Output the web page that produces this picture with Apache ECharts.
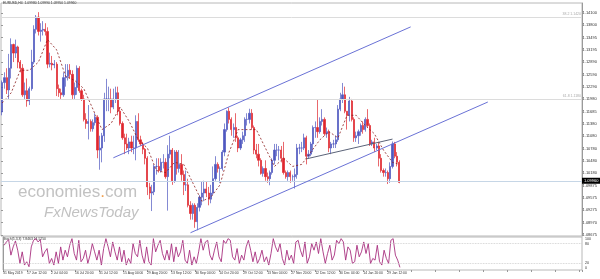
<!DOCTYPE html>
<html><head><meta charset="utf-8">
<script src="https://cdn.jsdelivr.net/npm/echarts@6/dist/echarts.min.js"></script>
<style>html,body{margin:0;padding:0;background:#fff}#c{width:600px;height:279px}</style>
</head><body><div id="c"></div>
<script>
// ---- data ----
const priceTickLabels = ['1.08675','1.08970','1.09275','1.09575','1.09875','1.10180','1.10480','1.10780','1.11080','1.11380','1.11685','1.11980','1.12290','1.12590','1.12890','1.13195','1.13495','1.13800','1.14100'];
const timeLabels = ['31 May 2019','17 Jun 12:00','2 Jul 04:00','16 Jul 20:00','31 Jul 12:00','15 Aug 04:00','29 Aug 20:00','13 Sep 12:00','30 Sep 04:00','14 Oct 20:00','29 Oct 12:00','13 Nov 04:00','27 Nov 20:00','12 Dec 12:00','30 Dec 04:00','14 Jan 20:00','29 Jan 12:00'];
const stochTickLabels = {0:'0',20:'20',80:'80',100:'100'};
// open, close, low, high
const ohlc = [
[1.1168,1.1240,1.1160,1.1245],[1.1240,1.1252,1.1225,1.1265],[1.1252,1.1222,1.1212,1.1275],[1.1222,1.1275,1.1200,1.1310],[1.1275,1.1333,1.1250,1.1348],
[1.1333,1.1312,1.1290,1.1335],[1.1312,1.1327,1.1300,1.1345],[1.1327,1.1290,1.1275,1.1330],[1.1290,1.1275,1.1265,1.1295],[1.1275,1.1210,1.1205,1.1285],
[1.1210,1.1220,1.1200,1.1240],[1.1220,1.1195,1.1181,1.1250],[1.1195,1.1225,1.1185,1.1230],[1.1225,1.1290,1.1220,1.1320],[1.1290,1.1370,1.1285,1.1380],
[1.1370,1.1400,1.1360,1.1405],[1.1400,1.1365,1.1355,1.1412],[1.1365,1.1368,1.1340,1.1385],[1.1368,1.1370,1.1355,1.1390],[1.1370,1.1365,1.1355,1.1385],
[1.1365,1.1285,1.1275,1.1375],[1.1285,1.1287,1.1277,1.1313],[1.1287,1.1283,1.1270,1.1305],[1.1283,1.1285,1.1275,1.1295],[1.1285,1.1225,1.1207,1.1290],
[1.1225,1.1215,1.1205,1.1235],[1.1215,1.1210,1.1200,1.1225],[1.1210,1.1252,1.1205,1.1265],[1.1252,1.1255,1.1230,1.1285],[1.1255,1.1270,1.1245,1.1285],
[1.1270,1.1260,1.1250,1.1285],[1.1260,1.1210,1.1200,1.1270],[1.1210,1.1228,1.1200,1.1240],[1.1228,1.1275,1.1210,1.1282],[1.1275,1.1220,1.1215,1.1280],
[1.1220,1.1200,1.1195,1.1225],[1.1200,1.1150,1.1145,1.1210],[1.1150,1.1140,1.1127,1.1165],[1.1140,1.1145,1.1101,1.1185],[1.1145,1.1127,1.1120,1.1150],
[1.1127,1.1142,1.1120,1.1150],[1.1142,1.1155,1.1135,1.1165],[1.1155,1.1075,1.1055,1.1160],[1.1075,1.1080,1.1027,1.1110],[1.1080,1.1110,1.1045,1.1117],
[1.1110,1.1200,1.1095,1.1215],[1.1200,1.1200,1.1170,1.1249],[1.1200,1.1200,1.1170,1.1230],[1.1200,1.1180,1.1165,1.1225],[1.1180,1.1200,1.1175,1.1225],
[1.1200,1.1215,1.1190,1.1230],[1.1215,1.1170,1.1160,1.1230],[1.1170,1.1140,1.1135,1.1180],[1.1140,1.1105,1.1100,1.1145],[1.1105,1.1090,1.1065,1.1115],
[1.1090,1.1080,1.1075,1.1115],[1.1080,1.1095,1.1065,1.1105],[1.1095,1.1080,1.1070,1.1110],[1.1080,1.1080,1.1065,1.1110],[1.1080,1.1145,1.1050,1.1160],
[1.1145,1.1100,1.1095,1.1165],[1.1100,1.1090,1.1085,1.1110],[1.1090,1.1077,1.1065,1.1095],[1.1077,1.1055,1.1040,1.1080],[1.1055,1.0985,1.0965,1.1060],
[1.0985,1.0970,1.0955,1.0995],[1.0970,1.0973,1.0926,1.0990],[1.0973,1.1035,1.0965,1.1040],[1.1035,1.1035,1.1015,1.1055],[1.1035,1.1025,1.1020,1.1055],
[1.1025,1.1045,1.1020,1.1055],[1.1045,1.1045,1.1030,1.1065],[1.1045,1.1010,1.1005,1.1055],[1.1010,1.1065,1.0927,1.1087],[1.1065,1.1075,1.1055,1.1110],
[1.1075,1.1000,1.0990,1.1080],[1.1000,1.1070,1.0995,1.1075],[1.1070,1.1030,1.1015,1.1075],[1.1030,1.1040,1.1020,1.1075],[1.1040,1.1015,1.1000,1.1065],
[1.1015,1.0990,1.0965,1.1025],[1.0990,1.0990,1.0975,1.1025],[1.0990,1.0940,1.0935,1.1005],[1.0940,1.0920,1.0905,1.0950],[1.0920,1.0940,1.0905,1.0945],
[1.0940,1.0900,1.0885,1.0945],[1.0900,1.0935,1.0879,1.0945],[1.0935,1.0960,1.0925,1.0965],[1.0960,1.0970,1.0940,1.0998],[1.0970,1.0980,1.0950,1.1000],
[1.0980,1.0970,1.0960,1.0999],[1.0970,1.0955,1.0940,1.0985],[1.0955,1.0970,1.0945,1.0990],[1.0970,1.1005,1.0965,1.1035],[1.1005,1.1040,1.1000,1.1060],
[1.1040,1.1030,1.1020,1.1045],[1.1030,1.1030,1.0995,1.1035],[1.1030,1.1070,1.1025,1.1075],[1.1070,1.1125,1.1060,1.1140],[1.1125,1.1170,1.1120,1.1172],
[1.1170,1.1150,1.1140,1.1179],[1.1150,1.1125,1.1110,1.1155],[1.1125,1.1130,1.1105,1.1140],[1.1130,1.1105,1.1095,1.1165],[1.1105,1.1080,1.1070,1.1110],
[1.1080,1.1100,1.1075,1.1105],[1.1100,1.1110,1.1090,1.1120],[1.1110,1.1150,1.1095,1.1155],[1.1150,1.1150,1.1135,1.1165],[1.1150,1.1165,1.1140,1.1176],
[1.1165,1.1130,1.1125,1.1175],[1.1130,1.1075,1.1065,1.1135],[1.1075,1.1065,1.1055,1.1090],[1.1065,1.1050,1.1035,1.1090],[1.1050,1.1018,1.1015,1.1055],
[1.1018,1.1030,1.1010,1.1035],[1.1030,1.1010,1.1000,1.1050],[1.1010,1.1005,1.0995,1.1020],[1.1005,1.1020,1.0989,1.1025],[1.1020,1.1050,1.1015,1.1055],
[1.1050,1.1075,1.1040,1.1090],[1.1075,1.1075,1.1060,1.1090],[1.1075,1.1075,1.1050,1.1085],[1.1075,1.1055,1.1045,1.1085],[1.1055,1.1020,1.1015,1.1095],
[1.1020,1.1010,1.1005,1.1025],[1.1010,1.1020,1.1000,1.1025],[1.1020,1.1010,1.0995,1.1025],[1.1010,1.1010,1.1000,1.1015],[1.1010,1.1015,1.0981,1.1030],
[1.1015,1.1080,1.1005,1.1090],[1.1080,1.1080,1.1065,1.1090],[1.1080,1.1080,1.1070,1.1095],[1.1080,1.1105,1.1075,1.1115],[1.1105,1.1060,1.1040,1.1110],
[1.1060,1.1065,1.1055,1.1075],[1.1065,1.1090,1.1060,1.1095],[1.1090,1.1130,1.1070,1.1135],[1.1130,1.1130,1.1105,1.1145],[1.1130,1.1120,1.1105,1.1199],
[1.1120,1.1145,1.1115,1.1155],[1.1145,1.1150,1.1135,1.1175],[1.1150,1.1115,1.1110,1.1155],[1.1115,1.1120,1.1105,1.1130],[1.1120,1.1080,1.1070,1.1125],
[1.1080,1.1090,1.1065,1.1095],[1.1090,1.1090,1.1080,1.1100],[1.1090,1.1100,1.1080,1.1110],[1.1100,1.1175,1.1095,1.1185],[1.1175,1.1200,1.1170,1.1215],
[1.1200,1.1210,1.1190,1.1239],[1.1210,1.1170,1.1165,1.1230],[1.1170,1.1160,1.1125,1.1170],[1.1160,1.1195,1.1145,1.1205],[1.1195,1.1150,1.1145,1.1200],
[1.1150,1.1105,1.1095,1.1155],[1.1105,1.1110,1.1095,1.1120],[1.1110,1.1120,1.1090,1.1125],[1.1120,1.1135,1.1110,1.1140],[1.1135,1.1125,1.1115,1.1145],
[1.1125,1.1150,1.1120,1.1155],[1.1150,1.1135,1.1130,1.1175],[1.1135,1.1090,1.1085,1.1140],[1.1090,1.1095,1.1085,1.1100],[1.1095,1.1080,1.1070,1.1105],
[1.1080,1.1085,1.1075,1.1090],[1.1085,1.1055,1.1035,1.1095],[1.1055,1.1025,1.1020,1.1065],[1.1025,1.1020,1.1010,1.1030],[1.1020,1.1020,1.1010,1.1030],
[1.1020,1.1005,1.0992,1.1025],[1.1005,1.1035,1.0995,1.1045],[1.1035,1.1090,1.1030,1.1096],[1.1090,1.1060,1.1055,1.1095],[1.1060,1.1045,1.1035,1.1070],
[1.1045,1.0996,1.0994,1.1050]
];
// moving average (dashed), [candle index, value]
const maPoints = [[0,1.1190],[4,1.1215],[8,1.1270],[12,1.1270],[16,1.1290],[20,1.1345],[24,1.1320],[28,1.1255],[32,1.1245],[36,1.1225],[40,1.1175],[44,1.1125],[48,1.1140],[52,1.1180],[56,1.1145],[60,1.1100],[64,1.1080],[68,1.1025],[72,1.1020],[76,1.1045],[80,1.1040],[84,1.0995],[88,1.0950],[92,1.0960],[96,1.0990],[100,1.1070],[104,1.1125],[108,1.1125],[112,1.1125],[116,1.1080],[120,1.1035],[124,1.1055],[128,1.1035],[132,1.1040],[136,1.1070],[140,1.1100],[144,1.1120],[148,1.1105],[152,1.1160],[156,1.1160],[160,1.1135],[164,1.1115],[168,1.1075],[172,1.1045],[175,1.1040]];
const stochK = [75,85,92,45,70,88,60,20,55,15,25,10,70,90,95,85,92,40,55,65,20,35,15,55,20,70,30,60,40,75,95,50,30,90,25,35,60,20,45,80,55,30,60,15,65,95,70,40,85,55,30,70,25,60,15,35,20,80,50,40,90,45,20,70,25,15,95,55,75,90,50,30,60,30,80,25,70,40,55,90,30,20,60,15,40,20,55,95,60,85,90,45,30,60,85,40,25,90,80,95,90,40,30,65,20,45,30,70,90,60,25,55,20,35,60,25,40,15,50,95,70,55,80,35,15,60,30,45,20,85,90,60,40,85,20,40,80,60,85,50,95,55,20,50,75,30,45,90,80,95,85,30,70,60,20,25,75,40,55,85,50,80,20,35,30,75,25,15,60,35,20,90,95,45,30,8];
const channelUpper = [[49,1.10561],[180,1.13760]];
const channelLower = [[83,1.08730],[214,1.11924]];
const trendLine = [[134,1.10534],[172,1.11018]];
const fibLevels = [[1.14198,'38.2 1.1420'],[1.11803,'61.8 1.1180']];
const lastPrice = 1.09960;
const stochLevels = [80,20];

// ---- chart ----
const N = 256;
const cats = Array.from({length:N},(_,i)=>String(i));
const maData = new Array(N).fill(null);
maPoints.forEach(p=>{maData[p[0]]=p[1];});
const font = 'Liberation Sans, Arial, sans-serif';
const chart = echarts.init(document.getElementById('c'), null, {renderer:'canvas'});
chart.setOption({
  animation:false,
  backgroundColor:'#ffffff',
  grid:[
    {left:1, width:581, top:3, height:233, show:true, borderColor:'#b8b8b8', borderWidth:1},
    {left:1, width:581, top:237, height:33, show:true, borderColor:'#b8b8b8', borderWidth:1},
    {left:1, width:581, top:13, height:222, show:false}
  ],
  xAxis:[
    {type:'category', gridIndex:0, data:cats, boundaryGap:true, show:false},
    {type:'category', gridIndex:1, data:cats, boundaryGap:true, show:false},
    {type:'value', gridIndex:1, min:0, max:581/24.1, interval:1, position:'bottom',
     axisLine:{show:false}, splitLine:{show:false},
     axisTick:{show:true, length:2, lineStyle:{color:'#999'}},
     axisLabel:{show:true, fontSize:3.4, fontFamily:font, color:'#333', margin:2, align:'left',
       formatter:v=>{const k=Math.round(v);return Math.abs(v-k)<1e-6&&timeLabels[k]?timeLabels[k]:'';}}},
    {type:'value', gridIndex:2, min:0, max:1, show:false}
  ],
  yAxis:[
    {type:'value', gridIndex:0, min:1.08650, max:1.14344, position:'right', scale:true,
     axisLine:{show:true, lineStyle:{color:'#9a9a9a'}}, axisTick:{show:false}, axisLabel:{show:false}, splitLine:{show:false}},
    {type:'value', gridIndex:1, min:0, max:100, interval:20, position:'right',
     axisLine:{show:true, lineStyle:{color:'#9a9a9a'}}, axisTick:{show:false}, splitLine:{show:false},
     axisLabel:{show:true, fontSize:3.6, fontFamily:font, color:'#333', margin:3,
       formatter:v=>v===100?'{a|100}':(v===0?'{b|0}':(stochTickLabels[v]||'')),
       rich:{a:{fontSize:3.6, padding:[4,0,0,0]}, b:{fontSize:3.6, padding:[0,0,4,0]}}}},
    {type:'value', gridIndex:2, min:0, max:18, interval:1, position:'right',
     axisLine:{show:false}, splitLine:{show:false},
     axisTick:{show:true, length:2, lineStyle:{color:'#999'}},
     axisLabel:{show:true, fontSize:4, fontFamily:font, color:'#333', margin:3,
       formatter:v=>priceTickLabels[v]||''}}
  ],
  series:[
    {type:'candlestick', xAxisIndex:0, yAxisIndex:0, data:ohlc, barWidth:1.7, clip:true,
     itemStyle:{color:'#4f58c0', color0:'#e0262e', borderColor:'#4f58c0', borderColor0:'#e0262e', borderWidth:0.7},
     markLine:{silent:true, symbol:['none','none'], animation:false,
       data:[
         {yAxis:fibLevels[0][0], lineStyle:{color:'#dcdcdc', type:'solid', width:1},
          label:{show:true, position:'insideEndTop', formatter:fibLevels[0][1], color:'#aaa', fontSize:3.5, fontFamily:font, distance:1}},
         {yAxis:fibLevels[1][0], lineStyle:{color:'#dcdcdc', type:'solid', width:1},
          label:{show:true, position:'insideEndTop', formatter:fibLevels[1][1], color:'#aaa', fontSize:3.5, fontFamily:font, distance:1}},
         {yAxis:lastPrice, lineStyle:{color:'#c6d6e6', type:'solid', width:1},
          label:{show:true, position:'end', formatter:lastPrice.toFixed(5), color:'#fff', backgroundColor:'#000', fontSize:4, fontFamily:font, padding:[1,2,1,2], distance:0}},
         [{coord:channelUpper[0], lineStyle:{color:'#6a72d6', type:'solid', width:1}, label:{show:false}},{coord:channelUpper[1]}],
         [{coord:channelLower[0], lineStyle:{color:'#6a72d6', type:'solid', width:1}, label:{show:false}},{coord:channelLower[1]}],
         [{coord:trendLine[0], lineStyle:{color:'#5b6378', type:'solid', width:1}, label:{show:false}},{coord:trendLine[1]}]
       ]}},
    {type:'line', xAxisIndex:0, yAxisIndex:0, data:maData, connectNulls:true, symbol:'none',
     lineStyle:{color:'#8a1c1c', width:0.8, type:[2,2]}},
    {type:'line', xAxisIndex:1, yAxisIndex:1, data:stochK, symbol:'none',
     lineStyle:{color:'#a8307f', width:0.9},
     markLine:{silent:true, symbol:['none','none'], label:{show:false},
       data:stochLevels.map(v=>({yAxis:v})), lineStyle:{color:'#c8c8c8', type:'dotted', width:0.8}}}
  ],
  graphic:[
    {type:'text', left:3, top:2, style:{text:'EURUSD,H4  1.09980 1.09990 1.09950 1.09960', fontSize:3.4, fontFamily:font, fill:'#333'}},
    {type:'text', left:3, top:238, style:{text:'Stoch(5,3,3) 7.8463 14.5250', fontSize:3.4, fontFamily:font, fill:'#333'}},
    {type:'text', left:18, top:184, z:-1, style:{text:'{a|economies}{b|.}{a|com}', rich:{a:{fontSize:17, fontFamily:font, fill:'#c2c2c2'}, b:{fontSize:17, fontFamily:font, fill:'#f0a050'}}}},
    {type:'text', left:44, top:205, z:-1, style:{text:'FxNewsToday', fontSize:15, fontFamily:font, fontStyle:'italic', fill:'#c2c2c2'}}
  ]
});
</script></body></html>
